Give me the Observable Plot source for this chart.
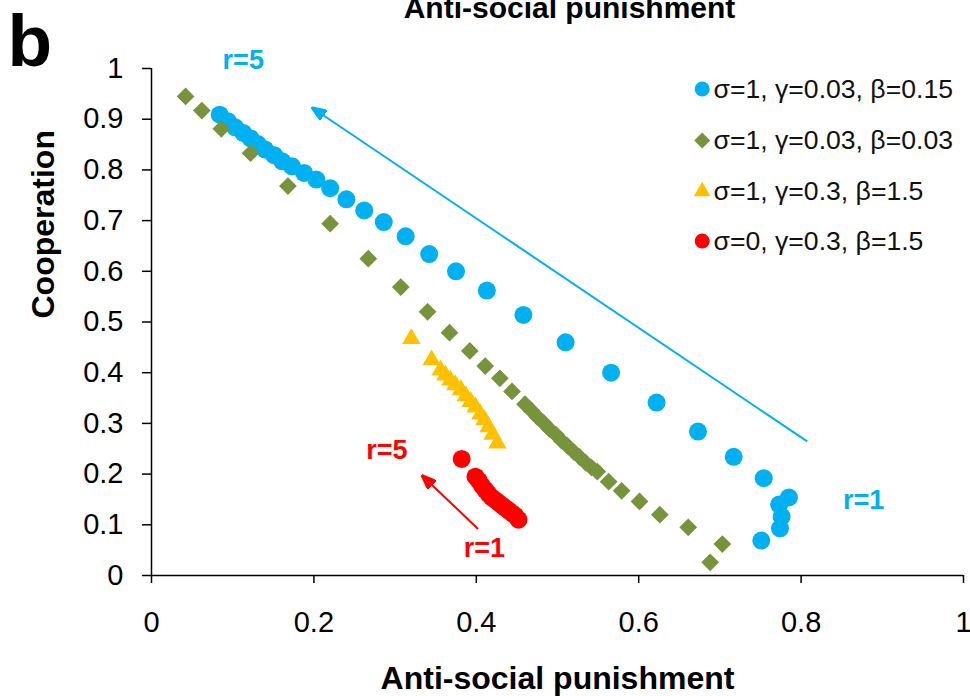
<!DOCTYPE html>
<html>
<head>
<meta charset="utf-8">
<script src="https://cdn.jsdelivr.net/npm/d3@7"></script>
<script src="https://cdn.jsdelivr.net/npm/@observablehq/plot@0.6"></script>
<style>
  html, body { margin: 0; padding: 0; background: #fff; }
  #chart { width: 970px; height: 696px; }
</style>
</head>
<body>
<div id="chart"></div>
<script>
// Series legends
const seriesLabels = [
  "σ=1, γ=0.03, β=0.15",
  "σ=1, γ=0.03, β=0.03",
  "σ=1, γ=0.3, β=1.5",
  "σ=0, γ=0.3, β=1.5"
];

// σ=1, γ=0.03, β=0.15 : anti-social punishment vs cooperation, r from 5 down to 1
const aspS1 = [0.084, 0.094, 0.103, 0.113, 0.122, 0.131, 0.140, 0.151, 0.161, 0.173, 0.188, 0.203,
  0.220, 0.240, 0.262, 0.286, 0.313, 0.342, 0.375, 0.413, 0.458, 0.510, 0.566, 0.622, 0.673, 0.717,
  0.754, 0.785, 0.773, 0.776, 0.774, 0.751];
const coopS1 = [0.909, 0.896, 0.884, 0.873, 0.862, 0.851, 0.840, 0.829, 0.817, 0.807, 0.794, 0.781,
  0.764, 0.742, 0.720, 0.697, 0.669, 0.634, 0.600, 0.562, 0.514, 0.460, 0.400, 0.341, 0.284, 0.234,
  0.192, 0.154, 0.140, 0.116, 0.093, 0.069];

// σ=1, γ=0.03, β=0.03
const aspS2 = [0.042, 0.062, 0.086, 0.122, 0.168, 0.220, 0.267, 0.307, 0.340, 0.367, 0.392, 0.411,
  0.429, 0.444, 0.460, 0.468, 0.475, 0.483, 0.490, 0.498, 0.505, 0.512, 0.520, 0.527, 0.535, 0.542,
  0.549, 0.563, 0.579, 0.601, 0.626, 0.661, 0.703, 0.688];
const coopS2 = [0.945, 0.917, 0.881, 0.833, 0.768, 0.694, 0.625, 0.569, 0.520, 0.479, 0.443, 0.413,
  0.389, 0.363, 0.338, 0.325, 0.313, 0.301, 0.289, 0.278, 0.266, 0.256, 0.244, 0.234, 0.222, 0.213,
  0.205, 0.185, 0.167, 0.146, 0.120, 0.095, 0.062, 0.026];

// σ=1, γ=0.3, β=1.5
const aspS3 = [0.320, 0.345, 0.356, 0.362, 0.368, 0.374, 0.381, 0.387, 0.393, 0.399, 0.405, 0.410,
  0.415, 0.420, 0.426];
const coopS3 = [0.467, 0.425, 0.405, 0.395, 0.385, 0.376, 0.366, 0.354, 0.343, 0.332, 0.318, 0.307,
  0.293, 0.278, 0.261];

// σ=0, γ=0.3, β=1.5
const aspS4 = [0.382, 0.399, 0.403, 0.407, 0.411, 0.415, 0.419, 0.424, 0.428, 0.432, 0.436, 0.440,
  0.444, 0.448, 0.452];
const coopS4 = [0.230, 0.195, 0.187, 0.177, 0.169, 0.161, 0.154, 0.148, 0.143, 0.138, 0.133, 0.128,
  0.123, 0.118, 0.110];

// Direction-of-r arrows: [x1, y1, x2, y2]
const arrowS1 = [0.8075, 0.2644, 0.1979, 0.9226];
const arrowS4 = [0.4022, 0.0919, 0.3334, 0.1969];

// r annotations
const rTextS1 = ["r=5", "r=1"];
const rXS1 = [0.113, 0.877];
const rYS1 = [1.016, 0.148];
const rTextS4 = ["r=5", "r=1"];
const rXS4 = [0.290, 0.410];
const rYS4 = [0.247, 0.053];

// Axis ticks
const xTicks = [0, 0.2, 0.4, 0.6, 0.8, 1];
const xTickLabels = ["0", "0.2", "0.4", "0.6", "0.8", "1"];
const yTicks = [0, 0.1, 0.2, 0.3, 0.4, 0.5, 0.6, 0.7, 0.8, 0.9, 1];
const yTickLabels = ["0", "0.1", "0.2", "0.3", "0.4", "0.5", "0.6", "0.7", "0.8", "0.9", "1"];

const title = "Anti-social punishment";
const xLabel = "Anti-social punishment";
const yLabel = "Cooperation";
const panelLetter = "b";

// ---- styling ----
const colors = ["#00b0f0", "#77933c", "#ffc000", "#ff0000"];
const symbols = ["circle", "diamond2", "triangle", "circle"];
const markR = [9, 8, 6.8, 9];
const legendR = [7.5, 7.2, 6.2, 7.5];
const legendRowY = [88.5, 140, 191, 240.5];

const toRows = (xs, ys) => xs.map((x, i) => ({x, y: ys[i]}));
const seriesRows = [toRows(aspS1, coopS1), toRows(aspS2, coopS2), toRows(aspS3, coopS3), toRows(aspS4, coopS4)];
const arrowRow = a => [{x1: a[0], y1: a[1], x2: a[2], y2: a[3]}];
const textRows = (t, xs, ys) => t.map((s, i) => ({text: s, x: xs[i], y: ys[i]}));

// Solid triangular arrowhead
function filledHead(color) {
  const ns = "http://www.w3.org/2000/svg";
  const m = document.createElementNS(ns, "marker");
  m.setAttribute("viewBox", "0 -6 15 12");
  m.setAttribute("refX", "14");
  m.setAttribute("refY", "0");
  m.setAttribute("markerUnits", "userSpaceOnUse");
  m.setAttribute("markerWidth", "15");
  m.setAttribute("markerHeight", "12");
  m.setAttribute("orient", "auto");
  const p = document.createElementNS(ns, "path");
  p.setAttribute("d", "M0,-6L15,0L0,6Z");
  p.setAttribute("fill", color);
  m.appendChild(p);
  return m;
}

const font = "'Liberation Sans', Arial, Helvetica, sans-serif";
const mt = 68, ml = 151;

const chart = Plot.plot({
  width: 970,
  height: 696,
  marginLeft: ml,
  marginRight: 7,
  marginTop: mt,
  marginBottom: 121,
  style: {fontFamily: font, background: "#fff", color: "#000"},
  x: {domain: [0, 1]},
  y: {domain: [0, 1]},
  marks: [
    Plot.axisX({ticks: xTicks, tickSize: 8, tickPadding: 28, fontSize: 29, strokeWidth: 1.5,
      tickFormat: d => xTickLabels[xTicks.indexOf(d)], label: null}),
    Plot.axisY({ticks: yTicks, tickSize: 9, tickPadding: 19, fontSize: 29, strokeWidth: 1.5,
      tickFormat: d => yTickLabels[yTicks.indexOf(d)], label: null}),
    Plot.ruleX([0], {stroke: "#000", strokeWidth: 1.5}),
    Plot.ruleY([0], {stroke: "#000", strokeWidth: 1.5}),

    // arrows showing increasing r
    Plot.link(arrowRow(arrowS1), {x1: "x1", y1: "y1", x2: "x2", y2: "y2", stroke: colors[0], strokeWidth: 2, markerEnd: filledHead}),
    Plot.link(arrowRow(arrowS4), {x1: "x1", y1: "y1", x2: "x2", y2: "y2", stroke: colors[3], strokeWidth: 2, markerEnd: filledHead}),

    // data series
    seriesRows.map((rows, i) => Plot.dot(rows, {x: "x", y: "y", r: markR[i], symbol: symbols[i], fill: colors[i], stroke: "none"})),

    // r annotations
    Plot.text(textRows(rTextS1, rXS1, rYS1), {x: "x", y: "y", text: "text", fill: colors[0], fontSize: 27, fontWeight: "bold"}),
    Plot.text(textRows(rTextS4, rXS4, rYS4), {x: "x", y: "y", text: "text", fill: colors[3], fontSize: 27, fontWeight: "bold"}),

    // legend
    seriesLabels.map((lab, i) => [
      Plot.dot([lab], {frameAnchor: "top-left", dx: 701.7 - ml, dy: legendRowY[i] - mt, r: legendR[i], symbol: symbols[i], fill: colors[i], stroke: "none"}),
      Plot.text([lab], {frameAnchor: "top-left", dx: 713 - ml, dy: legendRowY[i] - mt, text: d => d, textAnchor: "start", lineAnchor: "middle", fontSize: 26.6, fill: "#111"})
    ]),

    // titles
    Plot.text([yLabel], {frameAnchor: "left", rotate: -90, dx: -98, dy: -3.5, text: d => d, lineAnchor: "bottom", fontSize: 32, fontWeight: "bold", fill: "#000"}),
    Plot.text([xLabel], {frameAnchor: "bottom", dy: 113, text: d => d, lineAnchor: "bottom", fontSize: 32, fontWeight: "bold", fill: "#000"}),
    Plot.text([title], {frameAnchor: "top", dx: 12, dy: -51, text: d => d, lineAnchor: "bottom", fontSize: 30, fontWeight: "bold", fill: "#000"}),
    Plot.text([panelLetter], {frameAnchor: "top-left", dx: -144, dy: -3, text: d => d, textAnchor: "start", lineAnchor: "bottom", fontSize: 73, fontWeight: "bold", fill: "#000"})
  ]
});

document.getElementById("chart").append(chart);
</script>
</body>
</html>
